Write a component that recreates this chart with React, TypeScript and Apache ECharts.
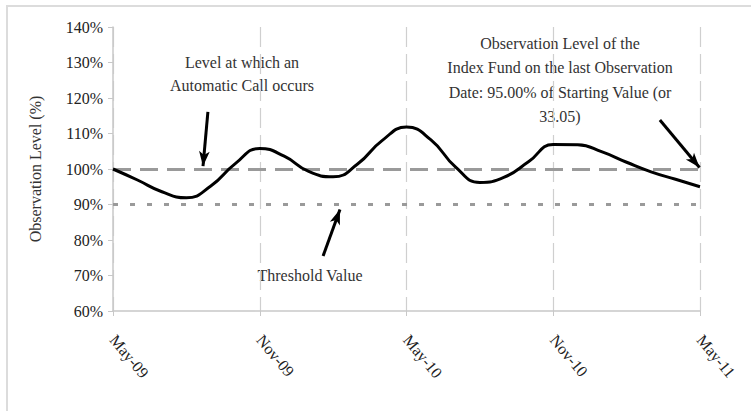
import React, { useEffect, useRef } from "react";
import * as echarts from "echarts";

// Months since May-09 (x) and observation level in % (y)
const months = [0, 1, 2, 3, 4, 5, 6, 7, 8, 9, 10, 11, 12, 13, 14, 15, 16, 17, 18, 19, 20, 21, 22, 23, 24];
const levels = [100, 96.9, 93.6, 91.9, 95.2, 101.5, 105.8, 103.6, 99.3, 97.8, 101.4, 108.0, 111.8, 108.2, 100.6, 96.2, 97.7, 102.1, 106.9, 106.8, 104.8, 101.9, 99.2, 97.1, 95];
const xTickLabels = ["May-09", "Nov-09", "May-10", "Nov-10", "May-11"];
const autocallLevel = 100;
const thresholdLevel = 90;

// Annotation arrows: [fromMonth, fromLevel, toMonth, toLevel]
const arrowCall = [3.88, 116.1, 3.68, 100.8];
const arrowThreshold = [8.59, 75.5, 9.28, 88.6];
const arrowFinal = [22.36, 113.8, 23.98, 100.4];

const annCall = "Level at which an\nAutomatic Call occurs";
const annFinal = "Observation Level of the\nIndex Fund on the last Observation\nDate: 95.00% of Starting Value (or\n33.05)";
const annThreshold = "Threshold Value";

const FONT = "'Liberation Serif', 'Times New Roman', serif";

export default function App() {
  const ref = useRef<HTMLDivElement>(null);
  useEffect(() => {
    if (!ref.current) return;
    const chart = echarts.init(ref.current, undefined, { renderer: "svg" });
    const arrow = (a: number[]) => [
      { coord: [a[0], a[1]] },
      { coord: [a[2], a[3]] },
    ];
    chart.setOption({
      animation: false,
      backgroundColor: "#ffffff",
      textStyle: { fontFamily: FONT },
      grid: { left: 113, right: 51, top: 27, bottom: 100, containLabel: false },
      xAxis: {
        type: "value",
        min: 0,
        max: 24,
        interval: 6,
        axisLine: { show: true, lineStyle: { color: "#c8c8c8", width: 1.5 } },
        axisTick: { show: true, length: 5, lineStyle: { color: "#c8c8c8" } },
        splitLine: { show: true, lineStyle: { color: "#cfcfcf", width: 1.2, type: [20, 7] } },
        axisLabel: {
          rotate: -50,
          margin: 26,
          fontFamily: FONT,
          fontSize: 16,
          color: "#222",
          showMaxLabel: true,
          showMinLabel: true,
          formatter: (v: number) => xTickLabels[Math.round(v / 6)] ?? "",
        },
      },
      yAxis: {
        type: "value",
        min: 60,
        max: 140,
        interval: 10,
        name: "Observation Level (%)",
        nameLocation: "middle",
        nameGap: 70,
        nameTextStyle: { fontFamily: FONT, fontSize: 16, color: "#333" },
        axisLine: { show: true, lineStyle: { color: "#c8c8c8", width: 1.5 } },
        axisTick: { show: true, length: 5, lineStyle: { color: "#c8c8c8" } },
        splitLine: { show: false },
        axisLabel: {
          margin: 10,
          fontFamily: FONT,
          fontSize: 16,
          color: "#222",
          formatter: "{value}%",
        },
      },
      series: [
        {
          type: "line",
          data: [],
          silent: true,
          markLine: {
            silent: true,
            symbol: ["none", "none"],
            label: { show: false },
            data: [
              { yAxis: autocallLevel, lineStyle: { color: "#9a9a9a", width: 3, type: [18, 9] } },
              { yAxis: thresholdLevel, lineStyle: { color: "#9a9a9a", width: 3, type: [5, 12] } },
            ],
          },
        },
        {
          type: "line",
          data: months.map((m, i) => [m, levels[i]]),
          smooth: 0.5,
          showSymbol: false,
          lineStyle: { color: "#000", width: 3 },
          z: 5,
          markLine: {
            silent: true,
            symbol: ["none", "arrow"],
            symbolSize: [8, 15],
            label: { show: false },
            lineStyle: { color: "#000", width: 3, type: "solid" },
            data: [arrow(arrowCall), arrow(arrowThreshold), arrow(arrowFinal)],
          },
        },
      ],
      graphic: [
        {
          type: "rect",
          shape: { x: 7, y: 6, width: 900, height: 500 },
          style: { fill: "none", stroke: "#dcdcdc", lineWidth: 2 },
          silent: true,
          z: -1,
        },
        {
          type: "text",
          x: 242,
          y: 51,
          style: {
            text: annCall,
            fontFamily: FONT,
            fontSize: 16,
            lineHeight: 23,
            fill: "#333",
            align: "center",
          },
        },
        {
          type: "text",
          x: 560,
          y: 31,
          style: {
            text: annFinal,
            fontFamily: FONT,
            fontSize: 16,
            lineHeight: 24.5,
            fill: "#333",
            align: "center",
          },
        },
        {
          type: "text",
          x: 310,
          y: 267,
          style: {
            text: annThreshold,
            fontFamily: FONT,
            fontSize: 16,
            fill: "#333",
            align: "center",
          },
        },
      ],
    });
    return () => chart.dispose();
  }, []);
  return (
    <div
      ref={ref}
      style={{ position: "fixed", left: 0, top: 0, width: 751, height: 411, background: "#fff" }}
    />
  );
}
